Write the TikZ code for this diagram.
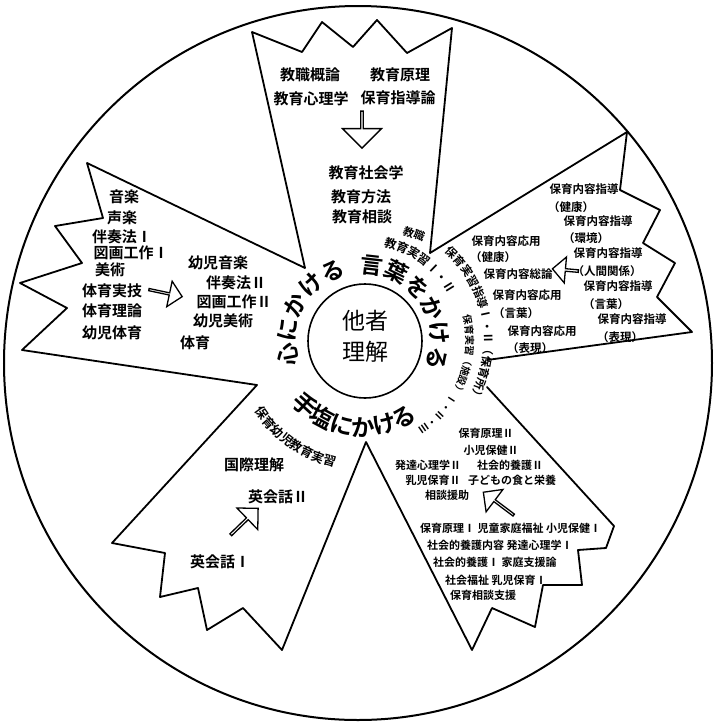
\documentclass[tikz,border=0pt]{standalone}
\usepackage{fontspec}
\newfontfamily\jp{Noto Sans CJK JP}
\IfFontExistsTF{Noto Sans CJK JP Bold}{\newfontfamily\jpb{Noto Sans CJK JP Bold}}{\newfontfamily\jpb[FakeBold=2.6]{Noto Sans CJK JP}}
\usetikzlibrary{calc,decorations.text,shapes.arrows}
\newcommand\myBigArc{\jpb\fontsize{23}{23}\selectfont}
\newcommand\myBotArc{\jpb\fontsize{23.5}{23.5}\selectfont}
\newcommand\mySmallArc{\jpb\fontsize{12}{12}\selectfont}
\newcommand\myTinyArc{\jpb\fontsize{10}{10}\selectfont}
\newcommand\myMidArc{\jpb\fontsize{12.5}{12.5}\selectfont}
\begin{document}
\begin{tikzpicture}[x=1pt,y=1pt,
  edge/.style={line width=1.8pt, line join=round, line cap=round},
  biglab/.style={font=\jpb\fontsize{15}{15}\selectfont, inner sep=0pt},
  rlab/.style={font=\jpb\fontsize{11.5}{11.5}\selectfont, inner sep=0pt},
  slab/.style={font=\jpb\fontsize{11}{11}\selectfont, inner sep=0pt},
  blk/.style={single arrow, draw, line width=1.3pt, fill=white, inner sep=0pt}
]
\useasboundingbox (0,0) rectangle (714,-724);
\fill[white] (0,0) rectangle (714,-724);
% outer rim
\draw[line width=2pt] (358,-363) ellipse [x radius=354, y radius=357];
\coordinate (c) at (363,-341);
% star outline
\draw[edge] (487,-387) -- (614,-526) -- (606,-548) -- (578,-550) -- (582,-585) -- (543,-585) -- (535,-627) -- (492,-608) -- (472,-650) -- (366,-442)
  -- (282,-650) -- (243,-608) -- (207,-630) -- (198,-588) -- (160,-597) -- (165,-553) -- (112,-543) -- (257,-385)
  -- (22,-350) -- (67,-308) -- (20,-283) -- (82,-263) -- (55,-226) -- (103,-218) -- (87,-163) -- (305,-268)
  -- (252,-32) -- (302,-52) -- (322,-22) -- (353,-47) -- (377,-20) -- (407,-53) -- (452,-28) -- (430,-253)
  -- (627,-132) -- (620,-190) -- (660,-210) -- (643,-243) -- (675,-263) -- (657,-297) -- (692,-332) -- (487,-360);
% centre
\node[circle, draw, line width=1.6pt, minimum size=114pt, inner sep=0pt] (core) at (365,-341) {};
\node[align=center, font=\jp\fontsize{23}{31}\selectfont, inner sep=0pt] (coretext) at (365,-336) {他者\\理解};
% curved big texts
\path[decorate, decoration={text along path, text align=center, text={|\myBigArc|心にかける}}]
  ($(c)+(212:68)$) arc[start angle=212, end angle=92, radius=68];
\path[decorate, decoration={text along path, text align=center, text={|\myBigArc|言葉をかける}}]
  ($(c)+(100:68)$) arc[start angle=100, end angle=-30, radius=68];
\path[decorate, decoration={text along path, text align=center, text={|\myBotArc|手塩にかける}}]
  ($(c)+(208:95)$) arc[start angle=208, end angle=318, radius=95];
% curved small texts
\path[decorate, decoration={text along path, text align=center, text={|\mySmallArc|教育実習Ⅰ・Ⅱ}}]
  ($(c)+(95:97)$) arc[start angle=95, end angle=11, radius=97];
\path[decorate, decoration={text along path, text align=center, text={|\jpb\fontsize{11.5}{11.5}\selectfont|保育実習指導Ⅰ・Ⅱ（保育所）}}]
  ($(c)+(60:121)$) arc[start angle=60, end angle=-41, radius=121];
\path[decorate, decoration={text along path, text align=center, text={|\myTinyArc|保育実習（施設）Ⅰ・Ⅱ・Ⅲ}}]
  ($(c)+(26:103)$) arc[start angle=26, end angle=-70, radius=103];
\path[decorate, decoration={text along path, text align=center, text={|\myMidArc|保育幼児教育実習}}]
  ($(c)+(199:129)$) arc[start angle=199, end angle=271, radius=129];
\node[slab, rotate=-20] (kyoshoku) at (414,-234) {教職};
% top arm
\node[biglab] (t1) at (310,-75) {教職概論};
\node[biglab] (t2) at (400,-75) {教育原理};
\node[biglab] (t3) at (311,-99) {教育心理学};
\node[biglab] (t4) at (398,-98) {保育指導論};
\node[blk, minimum height=37pt, minimum width=39pt, single arrow head extend=10pt, rotate=-90] (a1) at (362,-129) {};
\node[biglab] (t5) at (366,-173) {教育社会学};
\node[biglab] (t6) at (361,-197) {教育方法};
\node[biglab] (t7) at (362,-217) {教育相談};
% left arm
\node[biglab] (l1) at (124,-197) {音楽};
\node[biglab] (l2) at (122,-218) {声楽};
\node[biglab] (l3) at (122,-237) {伴奏法Ⅰ};
\node[biglab] (l4) at (131,-253) {図画工作Ⅰ};
\node[biglab] (l5) at (110,-270) {美術};
\node[biglab] (l6) at (112,-291) {体育実技};
\node[biglab] (l7) at (112,-311) {体育理論};
\node[biglab] (l8) at (112,-333) {幼児体育};
\node[blk, minimum height=34pt, minimum width=26pt, single arrow head extend=7pt, rotate=-12] (a2) at (165,-293) {};
\node[biglab] (l9) at (218,-263) {幼児音楽};
\node[biglab] (l10) at (236,-283) {伴奏法Ⅱ};
\node[biglab] (l11) at (234,-302) {図画工作Ⅱ};
\node[biglab] (l12) at (223,-321) {幼児美術};
\node[biglab] (l13) at (195,-343) {体育};
% right arm
\node[rlab] (r1) at (584,-189) {保育内容指導};
\node[rlab] (r2) at (571,-207) {（健康）};
\node[rlab] (r3) at (598,-221) {保育内容指導};
\node[rlab] (r4) at (586,-238) {（環境）};
\node[rlab] (r5) at (608,-253) {保育内容指導};
\node[rlab] (r6) at (607,-271) {（人間関係）};
\node[rlab] (r7) at (618,-286) {保育内容指導};
\node[rlab] (r8) at (606,-304) {（言葉）};
\node[rlab] (r9) at (632,-319) {保育内容指導};
\node[rlab] (r10) at (620,-337) {（表現）};
\node[rlab] (r11) at (506,-241) {保育内容応用};
\node[rlab] (r12) at (493,-257) {（健康）};
\node[rlab] (r13) at (518,-274) {保育内容総論};
\node[blk, minimum height=26pt, minimum width=26pt, single arrow head extend=6pt, rotate=175] (a3) at (566,-270) {};
\node[rlab] (r14) at (527,-295) {保育内容応用};
\node[rlab] (r15) at (516,-313) {（言葉）};
\node[rlab] (r16) at (542,-331) {保育内容応用};
\node[rlab] (r17) at (530,-348) {（表現）};
% lower right arm
\node[slab] (b1) at (486,-433) {保育原理Ⅱ};
\node[slab] (b2) at (491,-450) {小児保健Ⅱ};
\node[slab] (b3) at (428,-465) {発達心理学Ⅱ};
\node[slab] (b4) at (510,-465) {社会的養護Ⅱ};
\node[slab] (b5) at (433,-480) {乳児保育Ⅱ};
\node[slab] (b6) at (512,-480) {子どもの食と栄養};
\node[slab] (b7) at (447,-495) {相談援助};
\node[blk, minimum height=38pt, minimum width=28pt, single arrow head extend=7pt, rotate=143] (a4) at (499,-504) {};
\node[slab, anchor=west] (b8) at (420,-528) {保育原理Ⅰ 児童家庭福祉 小児保健Ⅰ};
\node[slab, anchor=west] (b9) at (427,-545) {社会的養護内容 発達心理学Ⅰ};
\node[slab, anchor=west] (b10) at (433,-562) {社会的養護Ⅰ 家庭支援論};
\node[slab, anchor=west] (b11) at (445,-580) {社会福祉 乳児保育Ⅰ};
\node[slab, anchor=west] (b12) at (450,-595) {保育相談支援};
% lower left arm
\node[biglab] (g1) at (254,-465) {国際理解};
\node[biglab] (g2) at (278,-497) {英会話Ⅱ};
\node[blk, minimum height=38pt, minimum width=30pt, single arrow head extend=7pt, rotate=44] (a5) at (244,-522) {};
\node[biglab] (g3) at (220,-562) {英会話Ⅰ};
\end{tikzpicture}
\end{document}
